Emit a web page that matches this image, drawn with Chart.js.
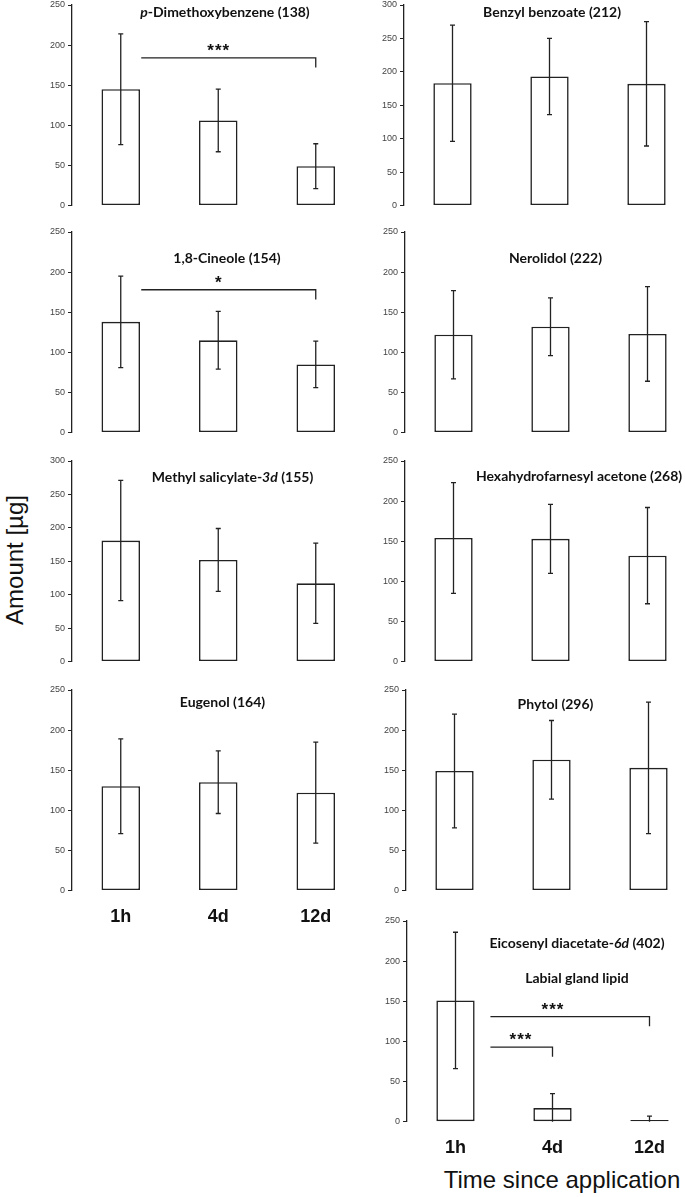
<!DOCTYPE html>
<html>
<head>
<meta charset="utf-8">
<script src="https://cdn.jsdelivr.net/npm/chart.js@4.4.1/dist/chart.umd.min.js"></script>
<style>
  html, body { margin: 0; padding: 0; background: #fff; overflow: hidden; }
  #wrap { position: relative; width: 685px; height: 1197px; overflow: hidden; }
  canvas { position: absolute; }
  .lab { position: absolute; font-family: "Liberation Sans", Arial, sans-serif; font-size: 24px; color: #111; white-space: nowrap; }
  #ylab { left: 15px; top: 560px; transform: translate(-50%, -50%) rotate(-90deg); }
  #xlab { left: 562px; top: 1180px; transform: translate(-50%, -50%); }
</style>
</head>
<body>
<div id="wrap">
  <div class="lab" id="ylab">Amount [µg]</div>
  <div class="lab" id="xlab">Time since application</div>
</div>
<script>
// sampling times
const times = ['1h', '4d', '12d']

// compound titles, _x_ marks italic parts
const compounds = [
    '_p_-Dimethoxybenzene (138)',
    'Benzyl benzoate (212)',
    '1,8-Cineole (154)',
    'Nerolidol (222)',
    'Methyl salicylate-_3d_ (155)',
    'Hexahydrofarnesyl acetone (268)',
    'Eugenol (164)',
    'Phytol (296)',
    'Eicosenyl diacetate-_6d_ (402)'
]
const subtitles = ['', '', '', '', '', '', '', '', 'Labial gland lipid']

// means and error bars per time point
const mean1h  = [145, 183, 138, 122, 181, 154, 130, 149, 151]
const mean4d  = [106, 193, 115, 132, 152, 153, 135, 163, 17]
const mean12d = [49, 182, 85, 123, 117, 132, 122, 153, 2]
const err1h   = [69, 87, 57, 55, 90, 69, 59, 71, 85]
const err4d   = [39, 57, 36, 36, 47, 43, 39, 49, 18]
const err12d  = [28, 93, 29, 59, 60, 60, 63, 82, 5]

// y axis maximum per panel
const yMax = [250, 300, 250, 250, 300, 250, 250, 250, 250]

// significance brackets: panel, start (category units), end, bar height, drop, stars, stars x
const sigBrackets = [
    {panel: 0, from: 0.21, to: 2, level: 184, drop: 172, label: '***', at: 1.0},
    {panel: 2, from: 0.21, to: 2, level: 178, drop: 166, label: '*', at: 1.0},
    {panel: 8, from: 0.36, to: 2, level: 131, drop: 119, label: '***', at: 1.0},
    {panel: 8, from: 0.36, to: 1, level: 93, drop: 81, label: '***', at: 0.67}
]

// page layout of the panels
const panelLayout = [
    {axisX: 72,    top: 4.5,  bottom: 205,    titleX: 225, titleY: 12},
    {axisX: 404,   top: 4.5,  bottom: 205,    titleX: 552, titleY: 12},
    {axisX: 72,    top: 232,  bottom: 433,    titleX: 227, titleY: 258},
    {axisX: 404.5, top: 232,  bottom: 433,    titleX: 555, titleY: 258},
    {axisX: 71.5,  top: 461,  bottom: 661.5,  titleX: 232, titleY: 477},
    {axisX: 405,   top: 461,  bottom: 661.5,  titleX: 579, titleY: 476},
    {axisX: 71.5,  top: 689.5, bottom: 890,   titleX: 222, titleY: 702, xLabels: true},
    {axisX: 405.5, top: 689.5, bottom: 890,   titleX: 555, titleY: 704},
    {axisX: 407,   top: 921,  bottom: 1121.7, titleX: 577, titleY: 943, xLabels: true}
]

const INK = '#222222'
const AXIS_W = 50
const PAD_TOP = 12
const XLAB_H = 45

function drawTitle(ctx, text, x, y) {
    var parts = text.split('_')
    var fonts = parts.map((p, i) => (i % 2 ? 'italic ' : '') + 'bold 14px Lato, sans-serif')
    var total = 0
    parts.forEach((p, i) => { ctx.font = fonts[i]; total += ctx.measureText(p).width })
    var cx = x - total / 2
    ctx.textAlign = 'left'
    ctx.textBaseline = 'middle'
    ctx.fillStyle = '#111'
    parts.forEach((p, i) => {
        ctx.font = fonts[i]
        ctx.fillText(p, cx, y)
        cx += ctx.measureText(p).width
    })
}

const extrasPlugin = {
    id: 'extras',
    afterDatasetsDraw(chart, args, opts) {
        var ctx = chart.ctx
        var xs = chart.scales.x
        var ys = chart.scales.y
        var k = opts.panel
        var box = opts.box
        var means = [mean1h[k], mean4d[k], mean12d[k]]
        var errs = [err1h[k], err4d[k], err12d[k]]
        ctx.save()
        ctx.strokeStyle = INK
        ctx.lineWidth = 1.3
        // error bars
        for (var i = 0; i < times.length; i++) {
            var x = xs.getPixelForValue(i)
            var yHi = ys.getPixelForValue(means[i] + errs[i])
            var yLo = ys.getPixelForValue(Math.max(0, means[i] - errs[i]))
            ctx.beginPath()
            ctx.moveTo(x, yHi); ctx.lineTo(x, yLo)
            ctx.moveTo(x - 2.5, yHi); ctx.lineTo(x + 2.5, yHi)
            if (means[i] - errs[i] > 0) { ctx.moveTo(x - 2.5, yLo); ctx.lineTo(x + 2.5, yLo) }
            ctx.stroke()
        }
        // significance brackets
        var step = xs.getPixelForValue(1) - xs.getPixelForValue(0)
        for (let b of sigBrackets) {
            if (b.panel != k) continue
            var x0 = xs.getPixelForValue(0) + b.from * step
            var x1 = xs.getPixelForValue(0) + b.to * step
            var yl = ys.getPixelForValue(b.level)
            var yd = ys.getPixelForValue(b.drop)
            ctx.beginPath()
            ctx.moveTo(x0, yl); ctx.lineTo(x1, yl); ctx.lineTo(x1, yd)
            ctx.stroke()
            ctx.font = 'bold 17px "Liberation Sans", Arial, sans-serif'
            ctx.letterSpacing = '1px'
            ctx.fillStyle = '#111'
            ctx.textAlign = 'center'
            ctx.textBaseline = 'alphabetic'
            ctx.fillText(b.label, xs.getPixelForValue(0) + b.at * step + 0.5, yl - 2)
            ctx.letterSpacing = '0px'
        }
        // titles
        var ox = box.axisX - AXIS_W
        var oy = box.top - PAD_TOP
        drawTitle(ctx, compounds[k], box.titleX - ox, box.titleY - oy)
        if (subtitles[k]) drawTitle(ctx, subtitles[k], box.titleX - ox, box.titleY + 35 - oy)
        ctx.restore()
    }
}

var wrap = document.getElementById('wrap')

panelLayout.forEach((box, k) => {
    var step = box.axisX < 200 ? 97.5 : 97
    var span = box.bottom - box.top
    var canvas = document.createElement('canvas')
    var w = Math.round(AXIS_W + 3 * step + 2)
    var h = Math.round(span + PAD_TOP + (box.xLabels ? XLAB_H : 8))
    canvas.width = w
    canvas.height = h
    canvas.style.left = (box.axisX - AXIS_W) + 'px'
    canvas.style.top = (box.top - PAD_TOP) + 'px'
    canvas.style.width = w + 'px'
    canvas.style.height = h + 'px'
    wrap.appendChild(canvas)

    new Chart(canvas.getContext('2d'), {
        type: 'bar',
        data: {
            labels: times,
            datasets: [{
                data: [mean1h[k], mean4d[k], mean12d[k]],
                backgroundColor: '#ffffff',
                borderColor: INK,
                borderWidth: 1.6,
                borderSkipped: false,
                categoryPercentage: 1,
                barPercentage: 0.395
            }]
        },
        options: {
            responsive: false,
            maintainAspectRatio: false,
            aspectRatio: w / h,
            animation: false,
            devicePixelRatio: 1,
            layout: { padding: { top: PAD_TOP, bottom: box.xLabels ? 0 : (h - PAD_TOP - span), left: 0, right: w - AXIS_W - 3 * step } },
            plugins: {
                legend: { display: false },
                tooltip: { enabled: false },
                extras: { panel: k, box: box }
            },
            scales: {
                x: {
                    display: !!box.xLabels,
                    grid: { display: false, drawTicks: false },
                    border: { display: false },
                    ticks: {
                        padding: 16,
                        color: '#111',
                        font: { family: '"Liberation Sans", Arial, sans-serif', size: 18, weight: 'bold' }
                    },
                    afterFit: s => { s.height = box.xLabels ? (h - PAD_TOP - span) : 0 }
                },
                y: {
                    min: 0,
                    max: yMax[k],
                    grid: { drawOnChartArea: false, drawTicks: true, tickLength: 4, color: INK, lineWidth: 1 },
                    border: { display: true, color: INK, width: 1.3 },
                    ticks: {
                        stepSize: 50,
                        padding: 3,
                        color: '#444',
                        font: { family: '"Liberation Sans", Arial, sans-serif', size: 9 }
                    },
                    afterFit: s => { s.width = AXIS_W }
                }
            }
        },
        plugins: [extrasPlugin]
    })
})
</script>
</body>
</html>
